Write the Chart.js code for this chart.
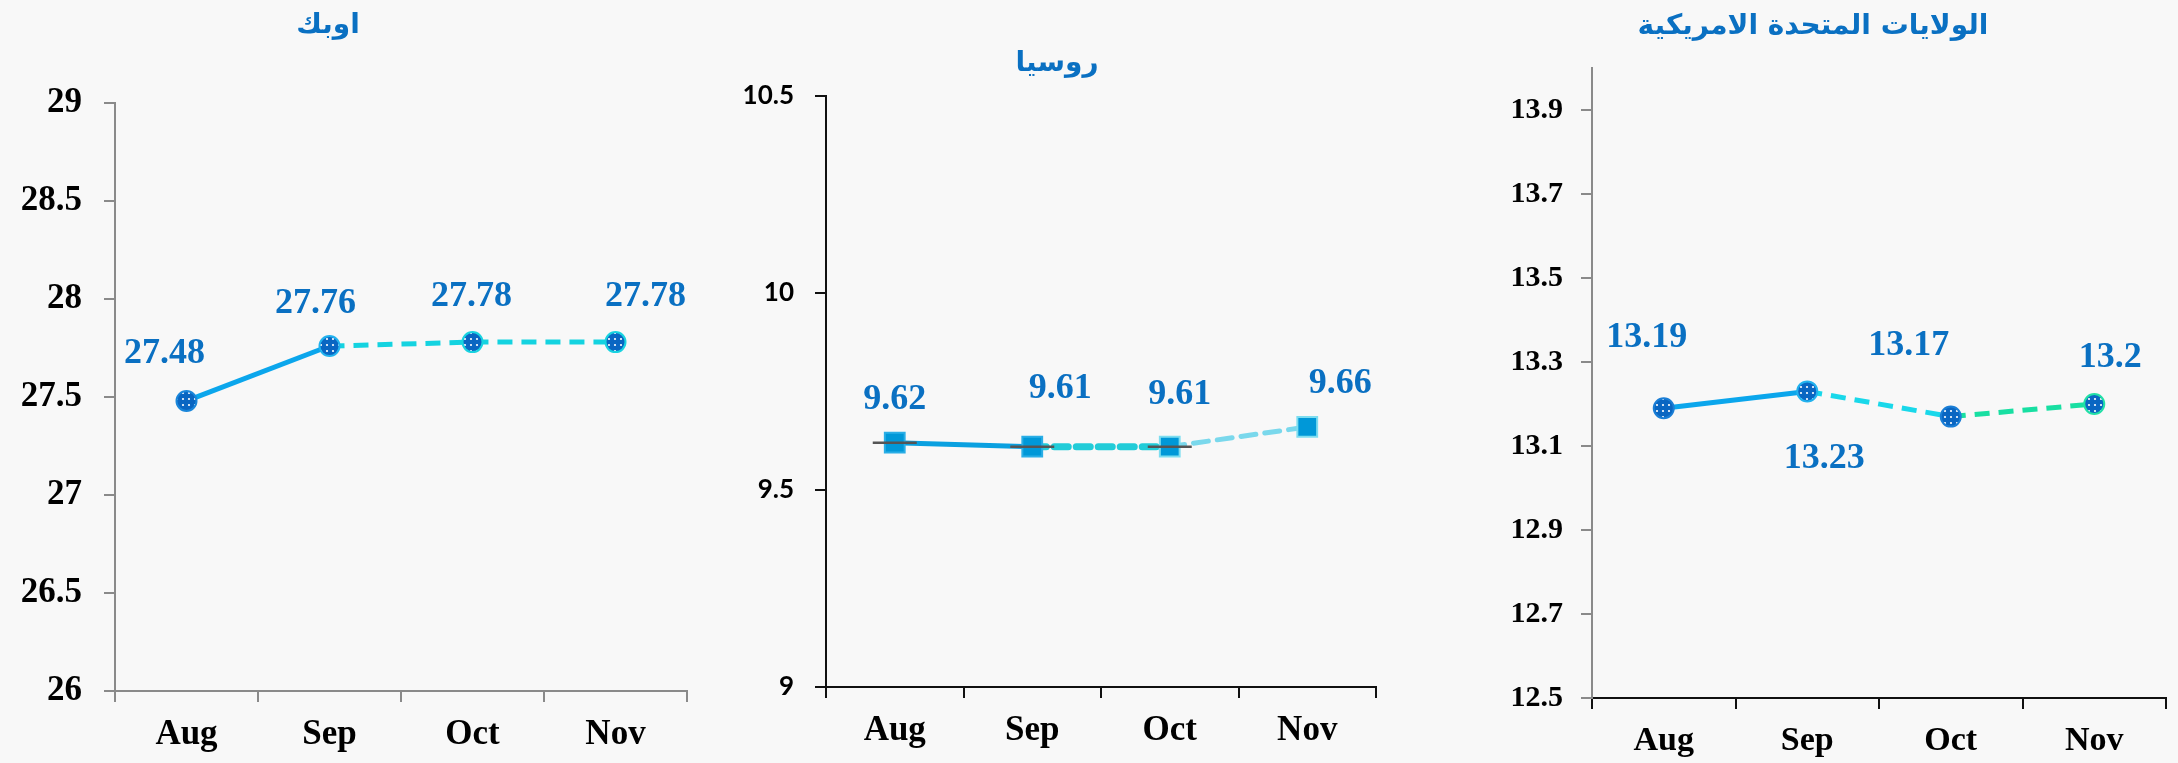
<!DOCTYPE html>
<html><head><meta charset="utf-8">
<script src="https://cdn.jsdelivr.net/npm/chart.js@4.4.1/dist/chart.umd.min.js"></script>
<style>
html,body{margin:0;padding:0;background:#f8f8f8;width:2178px;height:763px;overflow:hidden}
canvas{position:absolute;top:0}
</style></head><body>
<canvas id="c1" style="left:0px" width="720" height="763"></canvas>
<canvas id="c2" style="left:720px" width="730" height="763"></canvas>
<canvas id="c3" style="left:1450px" width="728" height="763"></canvas>
<script>
// ---------- DATA ----------
const months = ['Aug', 'Sep', 'Oct', 'Nov'];

const opecTitle = 'اوبك';
const opecValues = [27.48, 27.76, 27.78, 27.78];
const opecTicks = ['26', '26.5', '27', '27.5', '28', '28.5', '29'];

const russiaTitle = 'روسيا';
const russiaValues = [9.62, 9.61, 9.61, 9.66];
const russiaDashValues = [9.62, 9.61, 9.61, null];
const russiaTicks = ['9', '9.5', '10', '10.5'];

const usTitle = 'الولايات المتحدة الامريكية';
const usValues = [13.19, 13.23, 13.17, 13.2];
const usTicks = ['12.5', '12.7', '12.9', '13.1', '13.3', '13.5', '13.7', '13.9'];

// ---------- HELPERS ----------
function dotPattern() {
  const c = document.createElement('canvas'); c.width = 6; c.height = 6;
  const g = c.getContext('2d');
  g.fillStyle = '#0A66C2'; g.fillRect(0, 0, 6, 6);
  g.fillStyle = '#ffffff'; g.beginPath(); g.arc(3, 3, 1.1, 0, Math.PI * 2); g.fill();
  return g.createPattern(c, 'repeat');
}

const textPlugin = {
  id: 'customText',
  afterDatasetsDraw(chart, args, o) {
    const ctx = chart.ctx;
    const ds = chart.data.datasets[o.datasetIndex];
    const meta = chart.getDatasetMeta(o.datasetIndex);
    ctx.save();
    ctx.textAlign = 'center';
    ctx.textBaseline = 'middle';
    ctx.font = o.font;
    ctx.fillStyle = o.color;
    meta.data.forEach((pt, i) => {
      const v = ds.data[i];
      if (v == null) return;
      const off = o.offsets[i];
      ctx.fillText(String(v), pt.x + off[0], pt.y + off[1]);
    });
    ctx.font = o.titleFont;
    ctx.fillStyle = o.titleColor;
    ctx.fillText(o.title, o.titleX, o.titleY);
    ctx.restore();
  }
};

function scales(opt) {
  return {
    x: {
      type: 'category', offset: true,
      grid: { display: true, offset: true, drawOnChartArea: false, drawTicks: true, tickLength: 11, color: opt.xColor, lineWidth: 2 },
      border: { display: true, color: opt.xColor, width: 2 },
      ticks: { font: { family: 'Liberation Serif', weight: 'bold', size: opt.xFont }, color: '#000', padding: 12, maxRotation: 0, autoSkip: false },
      afterFit: s => { s.height = opt.xHeight; }
    },
    y: {
      min: opt.min, max: opt.max,
      afterBuildTicks: s => { s.ticks = opt.ticks.map(t => ({ value: parseFloat(t) })); },
      grid: { display: true, drawOnChartArea: false, drawTicks: true, tickLength: 11, color: opt.yColor, lineWidth: 2 },
      border: { display: true, color: opt.yColor, width: 2 },
      ticks: {
        callback: v => { const f = opt.ticks.find(t => Math.abs(parseFloat(t) - v) < 1e-9); return f === undefined ? '' : f; },
        font: opt.yFontObj, color: '#000', padding: opt.yPad
      },
      afterFit: s => { s.width = opt.yWidth; }
    }
  };
}

const common = {
  responsive: false, animation: false, devicePixelRatio: 1,
  plugins: { legend: { display: false }, tooltip: { enabled: false }, title: { display: false } }
};

const lblFont = 'bold 36px "Liberation Serif"';
const titleFont = 'bold 28px "DejaVu Sans"';
const blue = '#0A70C2';

// ---------- OPEC ----------
const opecSegColors = ['#0BA6EC', '#14D3E0', '#14D3E0'];
const opecSegDash = [[], [15, 9], [15, 9]];
new Chart(document.getElementById('c1'), {
  type: 'line',
  data: {
    labels: months,
    datasets: [{
      data: opecValues,
      borderWidth: 5,
      segment: { borderColor: c => opecSegColors[c.p0DataIndex], borderDash: c => opecSegDash[c.p0DataIndex] },
      pointStyle: 'circle', pointRadius: 10,
      pointBackgroundColor: dotPattern(),
      pointBorderColor: ['#1A86DA', '#22B2EE', '#19D3E0', '#19D3E0'],
      pointBorderWidth: 2
    }]
  },
  options: Object.assign({}, common, {
    layout: { padding: { left: 0, right: 33, top: 103, bottom: 0 } },
    scales: scales({ xColor: '#8a8a8a', yColor: '#8a8a8a', xFont: 35, xHeight: 72, min: 26, max: 29, ticks: opecTicks,
      yFontObj: { family: 'Liberation Serif', weight: 'bold', size: 35 }, yPad: 22, yWidth: 115 }),
    plugins: Object.assign({}, common.plugins, {
      customText: { datasetIndex: 0, font: lblFont, color: blue,
        offsets: [[-22, -47], [-14, -42], [-1, -45], [30, -45]],
        title: opecTitle, titleFont: titleFont, titleColor: blue, titleX: 328, titleY: 26 }
    })
  }),
  plugins: [textPlugin]
});

// ---------- RUSSIA ----------
const ruSegColors = ['#0AA0E0', '#22CCD8', '#7AD8EC'];
const ruSegDash = [[], [14, 8], [15, 9]];
const ruSegWidth = [5, 7, 5];
new Chart(document.getElementById('c2'), {
  type: 'line',
  data: {
    labels: months,
    datasets: [{
      data: russiaDashValues,
      showLine: false, order: 0,
      pointStyle: 'line', pointRadius: 22,
      pointBorderColor: '#555555', pointBorderWidth: 2.5
    }, {
      data: russiaValues, order: 1,
      borderWidth: 5,
      segment: { borderColor: c => ruSegColors[c.p0DataIndex], borderDash: c => ruSegDash[c.p0DataIndex], borderWidth: c => ruSegWidth[c.p0DataIndex] },
      borderCapStyle: 'round',
      pointStyle: 'rect', pointRadius: 14,
      pointBackgroundColor: '#0098D8',
      pointBorderColor: ['#2AAEE6', '#2AAEE6', '#7DDDF0', '#7DDDF0'],
      pointBorderWidth: 2
    }]
  },
  options: Object.assign({}, common, {
    layout: { padding: { left: 0, right: 74, top: 96, bottom: 0 } },
    scales: scales({ xColor: '#111111', yColor: '#111111', xFont: 35, xHeight: 76, min: 9, max: 10.5, ticks: russiaTicks,
      yFontObj: { family: 'Lato', weight: 'bold', size: 26 }, yPad: 21, yWidth: 106 }),
    plugins: Object.assign({}, common.plugins, {
      customText: { datasetIndex: 1, font: lblFont, color: blue,
        offsets: [[0, -43], [28, -58], [10, -52], [33, -43]],
        title: russiaTitle, titleFont: titleFont, titleColor: blue, titleX: 337, titleY: 64 }
    })
  }),
  plugins: [textPlugin]
});

// ---------- USA ----------
const usSegColors = ['#0BA6EC', '#19D8EA', '#18DFA2'];
const usSegDash = [[], [15, 9], [15, 9]];
new Chart(document.getElementById('c3'), {
  type: 'line',
  data: {
    labels: months,
    datasets: [{
      data: usValues,
      borderWidth: 5,
      segment: { borderColor: c => usSegColors[c.p0DataIndex], borderDash: c => usSegDash[c.p0DataIndex] },
      pointStyle: 'circle', pointRadius: 10,
      pointBackgroundColor: dotPattern(),
      pointBorderColor: ['#1A7ED6', '#22B2EE', '#1A7ED6', '#22E0A6'],
      pointBorderWidth: 2
    }]
  },
  options: Object.assign({}, common, {
    layout: { padding: { left: 0, right: 7, top: 68, bottom: 0 } },
    scales: scales({ xColor: '#111111', yColor: '#8a8a8a', xFont: 34, xHeight: 65, min: 12.5, max: 14, ticks: usTicks,
      yFontObj: { family: 'Liberation Serif', weight: 'bold', size: 30 }, yPad: 18, yWidth: 142 }),
    plugins: Object.assign({}, common.plugins, {
      customText: { datasetIndex: 0, font: lblFont, color: blue,
        offsets: [[-17, -70], [17, 67], [-42, -71], [16, -46]],
        title: usTitle, titleFont: titleFont, titleColor: blue, titleX: 363, titleY: 27 }
    })
  }),
  plugins: [textPlugin]
});
</script>
</body></html>
